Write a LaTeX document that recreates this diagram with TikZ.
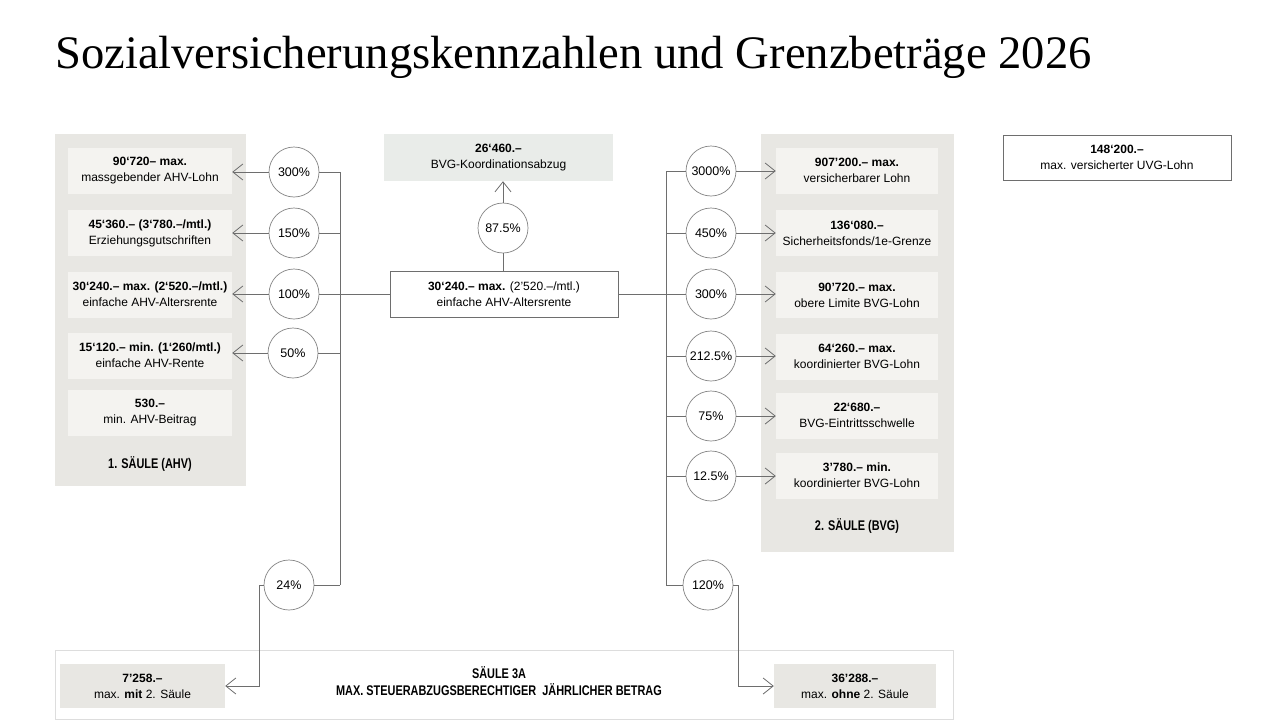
\documentclass[tikz,border=0pt]{standalone}
\usepackage{fontspec}
\usepackage{graphicx}
\setmainfont{Liberation Sans}
\newfontfamily\titlefont{Liberation Serif}
\usetikzlibrary{arrows.meta}
\definecolor{panelc}{HTML}{E8E7E3}
\definecolor{innerc}{HTML}{F4F3F0}
\definecolor{topc}{HTML}{E9ECE9}
\definecolor{linec}{HTML}{6E6E6E}
\definecolor{circc}{HTML}{858585}
\definecolor{framec}{HTML}{DDDDDD}
\newcommand\bodyfs{\fontsize{12pt}{16pt}\selectfont}
\newcommand\circfs{\fontsize{12.5pt}{15pt}\selectfont}
\newcommand\condb[1]{\scalebox{0.78}[1]{\fontsize{14pt}{17pt}\selectfont\bfseries #1}}
\tikzset{
  panelbox/.style={fill=panelc, inner sep=0pt},
  valbox/.style={fill=innerc, minimum width=164pt, minimum height=46pt, align=center, inner sep=0pt, font=\bodyfs},
  rvalbox/.style={valbox, minimum width=162pt},
  framebox/.style={draw=linec, line width=0.7pt, fill=white, minimum width=228pt, minimum height=46pt, align=center, inner sep=0pt, font=\bodyfs},
  pct/.style={circle, draw=circc, line width=0.7pt, fill=white, minimum size=50pt, inner sep=0pt, font=\circfs},
  conn/.style={draw=linec, line width=0.8pt},
  arr/.style={conn, -{Straight Barb[length=10pt, width=16pt, line width=0.8pt]}},
}
\begin{document}
\begin{tikzpicture}[x=1pt,y=-1pt]
\useasboundingbox (0,0) rectangle (1286,723);
\fill[white] (0,0) rectangle (1286,723);

% title
\node[anchor=base west, inner sep=0pt, font=\titlefont\fontsize{46.6pt}{50pt}\selectfont] (title) at (55,68) {Sozialversicherungskennzahlen und Grenzbeträge 2026};

% panels
\node[panelbox, minimum width=191pt, minimum height=352pt] (p1) at (150.5,310) {};
\node[panelbox, minimum width=193pt, minimum height=418pt] (p2) at (857,343) {};
\node[draw=framec, line width=0.8pt, fill=white, minimum width=898pt, minimum height=69pt, inner sep=0pt] (p3) at (504,684.5) {};

\node (p1lab) at (150,464) {\condb{1. SÄULE (AHV)}};
\node (p2lab) at (857,526) {\condb{2. SÄULE (BVG)}};
\node[align=center, inner sep=0pt, font=\fontsize{14pt}{17pt}\selectfont] (p3lab) at (499,681) {\condb{SÄULE 3A}\\\condb{MAX. STEUERABZUGSBERECHTIGER\ \ JÄHRLICHER BETRAG}};

% left boxes
\node[valbox] (l1) at (150,171) {\textbf{90‘720– max.}\\massgebender AHV-Lohn};
\node[valbox] (l2) at (150,233) {\textbf{45‘360.– (3‘780.–/mtl.)}\\Erziehungsgutschriften};
\node[valbox] (l3) at (150,294.5) {\textbf{30‘240.– max. (2‘520.–/mtl.)}\\einfache AHV-Altersrente};
\node[valbox] (l4) at (150,355.5) {\textbf{15‘120.– min. (1‘260/mtl.)}\\einfache AHV-Rente};
\node[valbox] (l5) at (150,413) {\textbf{530.–}\\min. AHV-Beitrag};

% right boxes
\node[rvalbox] (r1) at (857,170.5) {\textbf{907'200.– max.}\\versicherbarer Lohn};
\node[rvalbox] (r2) at (857,233) {\textbf{136‘080.–}\\Sicherheitsfonds/1e-Grenze};
\node[rvalbox] (r3) at (857,295) {\textbf{90'720.– max.}\\obere Limite BVG-Lohn};
\node[rvalbox] (r4) at (857,356.5) {\textbf{64‘260.– max.}\\koordinierter BVG-Lohn};
\node[rvalbox] (r5) at (857,415.5) {\textbf{22‘680.–}\\BVG-Eintrittsschwelle};
\node[rvalbox] (r6) at (857,475.5) {\textbf{3'780.– min.}\\koordinierter BVG-Lohn};

% center boxes
\node[fill=topc, minimum width=229pt, minimum height=47pt, align=center, inner sep=0pt, font=\bodyfs] (top) at (498.5,157.5) {\textbf{26‘460.–}\\BVG-Koordinationsabzug};
\node[framebox] (mid) at (504,294) {\textbf{30‘240.– max.} (2'520.–/mtl.)\\einfache AHV-Altersrente};
\node[framebox, minimum height=45pt] (uvg) at (1117,157.5) {\textbf{148‘200.–}\\max. versicherter UVG-Lohn};

% bottom boxes
\node[fill=panelc, minimum width=165pt, minimum height=44pt, align=center, inner sep=0pt, font=\bodyfs] (s1) at (142.5,686) {\textbf{7'258.–}\\max. \textbf{mit} 2. Säule};
\node[fill=panelc, minimum width=162pt, minimum height=44pt, align=center, inner sep=0pt, font=\bodyfs] (s2) at (855,686) {\textbf{36'288.–}\\max. \textbf{ohne} 2. Säule};

% left circles
\node[pct] (c300) at (294,172) {300\%};
\node[pct] (c150) at (294,233) {150\%};
\node[pct] (c100) at (294,294) {100\%};
\node[pct] (c50) at (293,353) {50\%};
\node[pct] (c24) at (289,585) {24\%};

% right circles
\node[pct] (d3000) at (711,171) {3000\%};
\node[pct] (d450) at (711,233) {450\%};
\node[pct] (d300) at (711,294) {300\%};
\node[pct] (d2125) at (711,356) {212.5\%};
\node[pct] (d75) at (711,416) {75\%};
\node[pct] (d125) at (711,476) {12.5\%};
\node[pct] (d120) at (708,585) {120\%};

% center circle
\node[pct] (c875) at (503,228) {87.5\%};

% spine coordinates
\coordinate (lt) at (340,172);
\coordinate (lb) at (340,585);
\coordinate (rt) at (666,171);
\coordinate (rb) at (666,585);
\coordinate (bl) at (259,585);
\coordinate (br) at (738,585);

% spines
\draw[conn] (lt) -- (lb);
\draw[conn] (rt) -- (rb);

% left connectors
\draw[conn] (c300.east) -- (c300.east -| lt);
\draw[conn] (c150.east) -- (c150.east -| lt);
\draw[conn] (c100.east) -- (mid.west);
\draw[conn] (c50.east) -- (c50.east -| lt);
\draw[conn] (c24.east) -- (lb);
\draw[arr] (c300.west) -- (c300.west -| l1.east);
\draw[arr] (c150.west) -- (c150.west -| l2.east);
\draw[arr] (c100.west) -- (c100.west -| l3.east);
\draw[arr] (c50.west) -- (c50.west -| l4.east);
\draw[arr] (c24.west) -- (bl) |- (s1.east);

% right connectors
\draw[conn] (mid.east) -- (d300.west);
\draw[conn] (d3000.west -| rt) -- (d3000.west);
\draw[conn] (d450.west -| rt) -- (d450.west);
\draw[conn] (d2125.west -| rt) -- (d2125.west);
\draw[conn] (d75.west -| rt) -- (d75.west);
\draw[conn] (d125.west -| rt) -- (d125.west);
\draw[conn] (rb) -- (d120.west);
\draw[arr] (d3000.east) -- (d3000.east -| r1.west);
\draw[arr] (d450.east) -- (d450.east -| r2.west);
\draw[arr] (d300.east) -- (d300.east -| r3.west);
\draw[arr] (d2125.east) -- (d2125.east -| r4.west);
\draw[arr] (d75.east) -- (d75.east -| r5.west);
\draw[arr] (d125.east) -- (d125.east -| r6.west);
\draw[arr] (d120.east) -- (br) |- (s2.west);

% center connectors
\draw[conn] (c875.south) -- (c875.south |- mid.north);
\draw[arr] (c875.north) -- (c875.north |- top.south);
\end{tikzpicture}
\end{document}
